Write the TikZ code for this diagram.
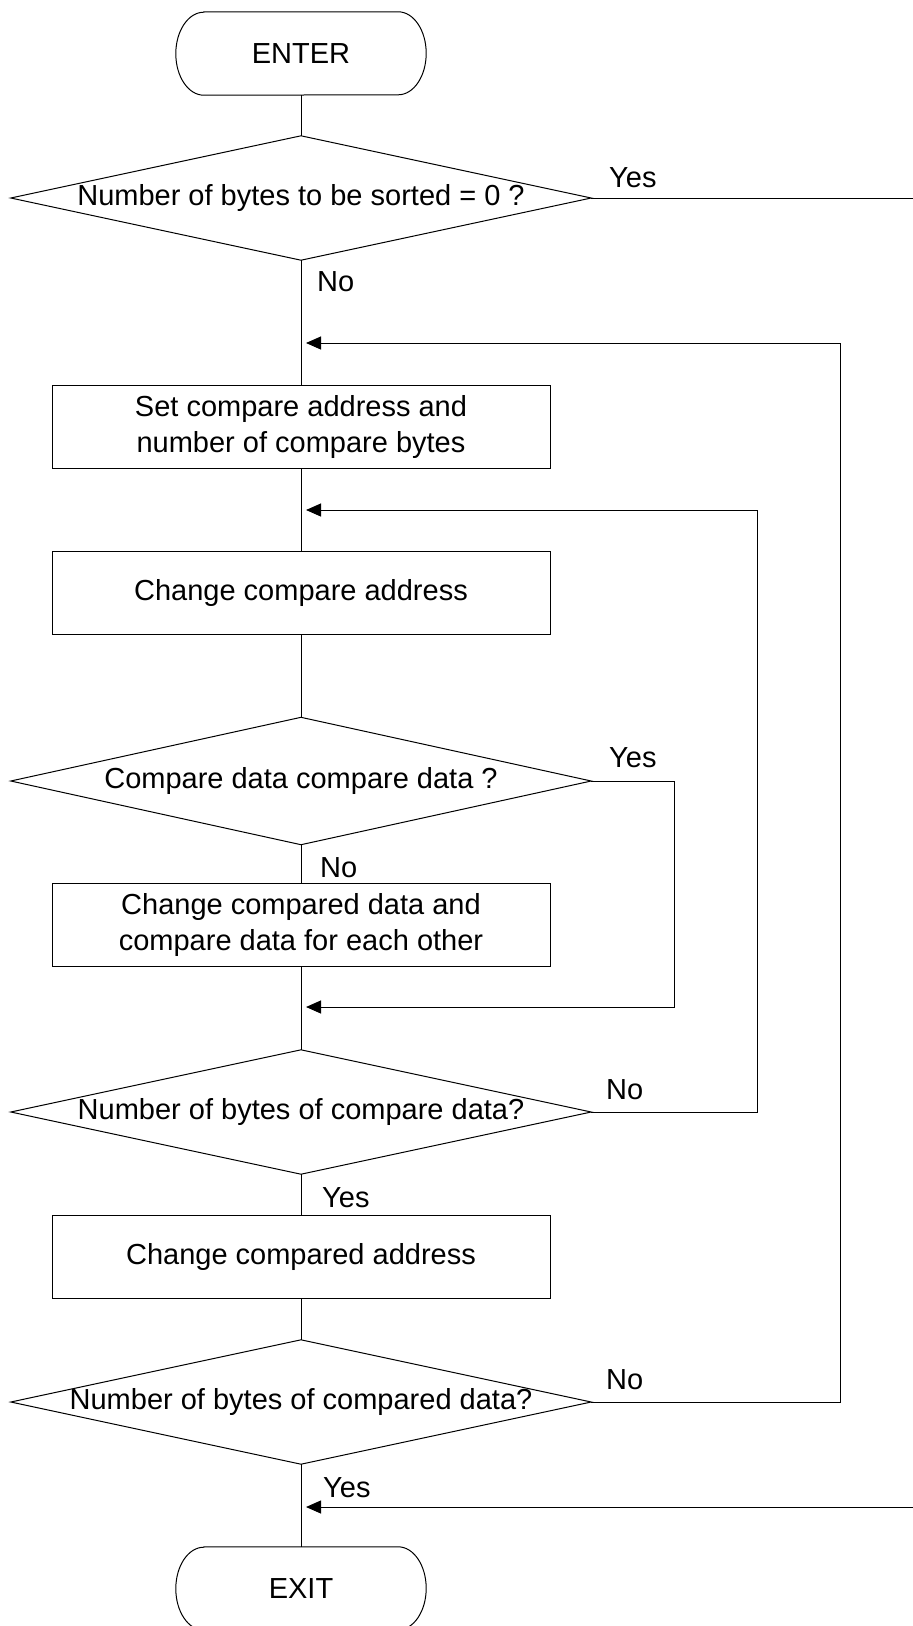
\documentclass[tikz,border=0pt]{standalone}
\usepackage{fontspec}
\setmainfont{Liberation Sans}
\usetikzlibrary{arrows.meta}
\begin{document}
\begin{tikzpicture}[x=1pt,y=-1pt,
  every node/.style={font=\fontsize{29}{36}\selectfont, inner sep=0pt},
  line/.style={line width=1pt, black},
  procbox/.style={draw, line width=1pt, minimum width=498pt, minimum height=83pt, align=center},
  decbox/.style={minimum width=580pt, minimum height=124pt, align=center},
  termbox/.style={minimum width=250pt, minimum height=83pt},
  lbl/.style={anchor=west},
  arr/.style={line, -{Triangle[length=15pt,width=13pt]}, shorten >=5pt},
]
\useasboundingbox (0,0) rectangle (913,1626);
\clip (0,0) rectangle (913,1626);

% terminals
\node[termbox] (enter) at (301,53.5) {ENTER};
\draw[line] ([xshift=28pt]enter.north west) -- ([xshift=-28pt]enter.north east)
  arc[start angle=90,end angle=-90,x radius=28pt,y radius=41.5pt]
  -- ([xshift=28pt]enter.south west)
  arc[start angle=270,end angle=90,x radius=28pt,y radius=41.5pt] -- cycle;

\node[termbox] (exit) at (301,1588.5) {EXIT};
\draw[line] ([xshift=28pt]exit.north west) -- ([xshift=-28pt]exit.north east)
  arc[start angle=90,end angle=-90,x radius=28pt,y radius=41.5pt]
  -- ([xshift=28pt]exit.south west)
  arc[start angle=270,end angle=90,x radius=28pt,y radius=41.5pt] -- cycle;

% decisions
\node[decbox] (d1) at (301,198) {Number of bytes to be sorted = 0 ?};
\draw[line] (d1.north) -- (d1.east) -- (d1.south) -- (d1.west) -- cycle;
\node[decbox, minimum height=127pt] (d2) at (301,781) {Compare data compare data ?};
\draw[line] (d2.north) -- (d2.east) -- (d2.south) -- (d2.west) -- cycle;
\node[decbox] (d3) at (301,1112) {Number of bytes of compare data?};
\draw[line] (d3.north) -- (d3.east) -- (d3.south) -- (d3.west) -- cycle;
\node[decbox] (d4) at (301,1402) {Number of bytes of compared data?};
\draw[line] (d4.north) -- (d4.east) -- (d4.south) -- (d4.west) -- cycle;

% processes
\node[procbox] (b1) at (301,426.5) {Set compare address and\\number of compare bytes};
\node[procbox] (b2) at (301,592.5) {Change compare address};
\node[procbox] (b3) at (301,924.5) {Change compared data and\\compare data for each other};
\node[procbox] (b4) at (301,1256.5) {Change compared address};

% main flow
\draw[line] (enter.south) -- (d1.north);
\draw[line] (d1.south) -- (b1.north);
\draw[line] (b1.south) -- (b2.north);
\draw[line] (b2.south) -- (d2.north);
\draw[line] (d2.south) -- (b3.north);
\draw[line] (b3.south) -- (d3.north);
\draw[line] (d3.south) -- (b4.north);
\draw[line] (b4.south) -- (d4.north);
\draw[line] (d4.south) -- (exit.north);

% branches
\coordinate (r1) at (913,198);
\draw[line] (d1.east) -- (r1);
\coordinate (r2) at (913,1507);
\coordinate (m4) at (301,1507);
\draw[arr] (r2) -- (m4);

\coordinate (c2) at (674,1007);
\coordinate (m2) at (301,1007);
\draw[arr] (d2.east) -| (c2) -- (m2);

\coordinate (c3) at (757,510);
\coordinate (m3) at (301,510);
\draw[arr] (d3.east) -| (c3) -- (m3);

\coordinate (c4) at (840,343);
\coordinate (m1) at (301,343);
\draw[arr] (d4.east) -| (c4) -- (m1);

% labels
\node[lbl] (y1) at (609,178) {Yes};
\node[lbl] (n1) at (317,282) {No};
\node[lbl] (y2) at (609,758) {Yes};
\node[lbl] (n2) at (320,868) {No};
\node[lbl] (n3) at (606,1090) {No};
\node[lbl] (y3) at (322,1198) {Yes};
\node[lbl] (n4) at (606,1380) {No};
\node[lbl] (y4) at (323,1488) {Yes};
\end{tikzpicture}
\end{document}
